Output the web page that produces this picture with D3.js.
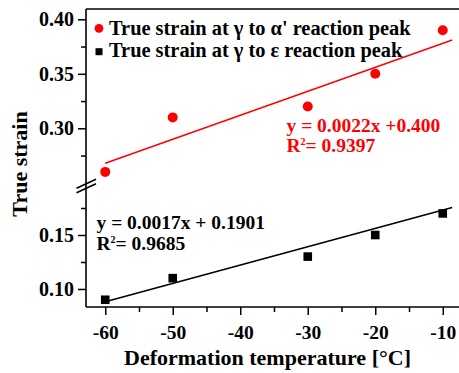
<!DOCTYPE html>
<html><head><meta charset="utf-8">
<script src="https://cdn.jsdelivr.net/npm/d3@7"></script>
<style>
html,body{margin:0;padding:0;background:#fff;}
svg text{font-family:"Liberation Serif","Times New Roman",serif;font-weight:bold;}
</style></head><body>
<svg id="chart" width="459" height="373"></svg>
<script>
// Deformation temperature (°C) and the true strain at each reaction peak
const temperatures = [-60, -50, -30, -20, -10];
const alphaStrain = [0.26, 0.31, 0.32, 0.35, 0.39];     // γ → α'
const epsilonStrain = [0.09, 0.11, 0.13, 0.15, 0.17];   // γ → ε

// Linear fits: [α', ε]
const fitSlopes = [0.0022, 0.0017];
const fitIntercepts = [0.400, 0.1901];
const fitR2 = ["0.9397", "0.9685"];
const fitSpan = [-60, -8.6];

// Axis ticks
const xTicks = [-60, -50, -40, -30, -20, -10];
const xMinorTicks = [-55, -45, -35, -25, -15];
const upperTicks = [0.30, 0.35, 0.40];
const upperMinorTicks = [0.275, 0.325, 0.375];
const lowerTicks = [0.10, 0.15];
const lowerMinorTicks = [0.125, 0.175];

const legendLabels = ["True strain at \u03B3 to \u03B1' reaction peak", "True strain at \u03B3 to \u03B5 reaction peak"];

const RED = "#ff0000", BLACK = "#000000";
const svg = d3.select("#chart");

const plotLeft = 86, plotTop = 9, plotBottom = 307, plotRight = 459.3;
const x = d3.scaleLinear().domain([-62.85, -7.55]).range([plotLeft, plotRight]);
// broken y axis: upper and lower segments
const yUpper = d3.scaleLinear().domain([0.25, 0.40]).range([182.8, 19.3]);
const yLower = d3.scaleLinear().domain([0.0833, 0.15]).range([plotBottom, 235]);

// frame lines
const frame = svg.append("g").attr("stroke", BLACK).attr("stroke-width", 1.6).attr("fill", "none");
frame.append("line").attr("x1", plotLeft).attr("x2", plotLeft).attr("y1", plotTop).attr("y2", plotBottom);
frame.append("line").attr("x1", plotLeft).attr("x2", 459).attr("y1", plotTop).attr("y2", plotTop);
frame.append("line").attr("x1", plotLeft).attr("x2", 459).attr("y1", plotBottom).attr("y2", plotBottom);

function styleAxis(g, fontSize) {
  g.select(".domain").remove();
  g.selectAll(".tick line").attr("stroke", BLACK).attr("stroke-width", 1.5);
  g.selectAll(".tick text").attr("fill", BLACK).style("font-size", fontSize + "px");
}

// x axis (plain hyphen for negative labels)
const xAxisG = svg.append("g").attr("transform", `translate(0,${plotBottom})`)
  .call(d3.axisBottom(x).tickValues(xTicks).tickSize(8).tickPadding(10).tickFormat(d => String(d)));
styleAxis(xAxisG, 19.5);
const xMinorG = svg.append("g").attr("transform", `translate(0,${plotBottom})`)
  .call(d3.axisBottom(x).tickValues(xMinorTicks).tickSize(5).tickFormat(""));
styleAxis(xMinorG, 19.5);

// y axis segments
function yAxis(scale, major, minor) {
  const g = svg.append("g").attr("transform", `translate(${plotLeft},0)`)
    .call(d3.axisLeft(scale).tickValues(major).tickSize(8).tickPadding(4).tickFormat(d => d.toFixed(2)));
  styleAxis(g, 20);
  const gm = svg.append("g").attr("transform", `translate(${plotLeft},0)`)
    .call(d3.axisLeft(scale).tickValues(minor).tickSize(5).tickFormat(""));
  styleAxis(gm, 20);
}
yAxis(yUpper, upperTicks, upperMinorTicks);
yAxis(yLower, lowerTicks, lowerMinorTicks);

// break marks on the y axis
const brk = svg.append("g").attr("stroke", BLACK).attr("stroke-width", 1.6);
[-2.2, 2.2].forEach(o => {
  brk.append("line").attr("x1", 76.5).attr("y1", 190.5 + o).attr("x2", 96).attr("y2", 181.5 + o);
});

// fit lines
const series = [
  {values: alphaStrain, y: yUpper, color: RED, k: 0},
  {values: epsilonStrain, y: yLower, color: BLACK, k: 1}
];
series.forEach(s => {
  const f = t => fitSlopes[s.k] * t + fitIntercepts[s.k];
  svg.append("line")
    .attr("x1", x(fitSpan[0])).attr("y1", s.y(f(fitSpan[0])))
    .attr("x2", x(fitSpan[1])).attr("y2", s.y(f(fitSpan[1])))
    .attr("stroke", s.color).attr("stroke-width", 1.5);
});

// markers
svg.append("g").selectAll("circle").data(temperatures).join("circle")
  .attr("cx", (d) => x(d)).attr("cy", (d, i) => yUpper(alphaStrain[i]))
  .attr("r", 5).attr("fill", RED);
svg.append("g").selectAll("rect").data(temperatures).join("rect")
  .attr("x", (d) => x(d) - 4.3).attr("y", (d, i) => yLower(epsilonStrain[i]) - 4.3)
  .attr("width", 8.6).attr("height", 8.6).attr("fill", BLACK);

// legend
const lg = svg.append("g");
lg.append("circle").attr("cx", 99).attr("cy", 28.3).attr("r", 4.4).attr("fill", RED);
lg.append("rect").attr("x", 95.5).attr("y", 48.2).attr("width", 7).attr("height", 7).attr("fill", BLACK);
legendLabels.forEach((t, i) => {
  lg.append("text").attr("x", 109).attr("y", 35 + i * 22.3).style("font-size", "20.4px").attr("fill", BLACK).text(t);
});

// fit equations
function equation(xp, yp, color, eq, r2) {
  const g = svg.append("g").attr("fill", color).style("font-size", "19.5px");
  g.append("text").attr("x", xp).attr("y", yp).text(eq);
  const t = g.append("text").attr("x", xp).attr("y", yp + 20.5);
  t.append("tspan").text("R");
  t.append("tspan").attr("dy", -7).style("font-size", "10px").text("2");
  t.append("tspan").attr("dy", 7).text("= " + r2);
}
equation(286.5, 131.5, RED, "y = " + fitSlopes[0].toFixed(4) + "x +" + fitIntercepts[0].toFixed(3), fitR2[0]);
equation(96.5, 229, BLACK, "y = " + fitSlopes[1].toFixed(4) + "x + " + fitIntercepts[1].toFixed(4), fitR2[1]);

// axis titles
svg.append("text").attr("x", 267.5).attr("y", 365).attr("text-anchor", "middle")
  .style("font-size", "22px").attr("fill", BLACK).text("Deformation temperature [\u00B0C]");
svg.append("text").attr("transform", "translate(27,164) rotate(-90)").attr("text-anchor", "middle")
  .style("font-size", "22px").attr("fill", BLACK).text("True strain");
</script>
</body></html>
